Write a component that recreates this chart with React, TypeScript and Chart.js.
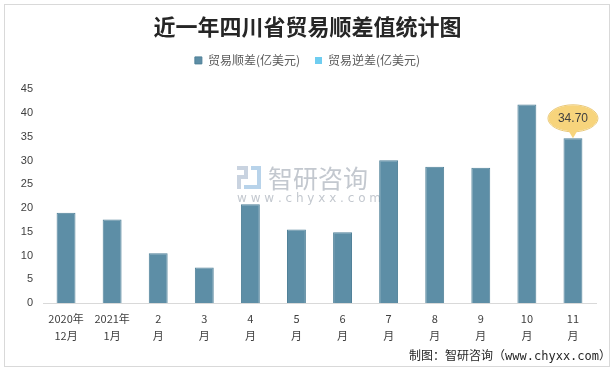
import React, { useEffect, useRef } from "react";
import { Chart, registerables } from "chart.js";

Chart.register(...registerables);

const chartTitle = "近一年四川省贸易顺差值统计图";
const categories: string[][] = [
  ["2020年", "12月"],
  ["2021年", "1月"],
  ["2", "月"],
  ["3", "月"],
  ["4", "月"],
  ["5", "月"],
  ["6", "月"],
  ["7", "月"],
  ["8", "月"],
  ["9", "月"],
  ["10", "月"],
  ["11", "月"],
];
const surplusName = "贸易顺差(亿美元)";
const deficitName = "贸易逆差(亿美元)";
const surplus = [19.0, 17.6, 10.5, 7.5, 20.8, 15.5, 14.9, 30.1, 28.7, 28.5, 41.8, 34.7];
const deficit: (number | null)[] = [];
const yMin = 0;
const yMax = 45;
const yStep = 5;
const highlightIndex = 11;
const footerText = "制图：智研咨询（www.chyxx.com）";
const watermarkName = "智研咨询";
const watermarkUrl = "w w w . c h y x x . c o m";

const W = 615;
const H = 371;

const framePlugin = {
  id: "frame",
  afterInit(chart: any) {
    const lg = chart.legend;
    if (lg && !lg.__patched) {
      const orig = lg.fit.bind(lg);
      lg.fit = function () {
        orig();
        this.height += 13;
      };
      lg.__patched = true;
    }
  },
  beforeDraw(chart: any) {
    const ctx = chart.ctx;
    ctx.save();
    ctx.fillStyle = "#ffffff";
    ctx.fillRect(0, 0, W, H);
    ctx.strokeStyle = "#d9d9d9";
    ctx.lineWidth = 1;
    ctx.strokeRect(4.5, 4.5, 605, 362);
    ctx.restore();
  },
};

const watermarkPlugin = {
  id: "watermark",
  beforeDatasetsDraw(chart: any) {
    const ctx = chart.ctx;
    ctx.save();
    ctx.fillStyle = "#c9d3e0";
    ctx.fillRect(237, 166, 11, 4);
    ctx.fillRect(244, 166, 4, 12);
    ctx.fillRect(237, 175, 11, 4);
    ctx.fillRect(237, 175, 4, 14);
    ctx.fillStyle = "#b8d3ea";
    ctx.fillRect(251, 166, 10, 4);
    ctx.fillRect(257, 166, 4, 23);
    ctx.fillRect(244, 185, 17, 4);
    ctx.fillStyle = "#c3c8cf";
    ctx.font = "25px 'Noto Sans CJK SC'";
    ctx.textBaseline = "middle";
    ctx.textAlign = "left";
    ctx.fillText(watermarkName, 268, 178);
    ctx.font = "12px 'DejaVu Sans'";
    ctx.fillText(watermarkUrl, 237, 199);
    ctx.restore();
  },
  afterDraw(chart: any) {
    const ctx = chart.ctx;
    ctx.save();
    ctx.fillStyle = "#262626";
    ctx.font = "12px 'DejaVu Sans Mono', 'Noto Sans CJK SC'";
    ctx.textAlign = "right";
    ctx.textBaseline = "middle";
    ctx.fillText(footerText, 611, 357);
    ctx.restore();
  },
};

const calloutPlugin = {
  id: "callout",
  afterDatasetsDraw(chart: any) {
    const meta = chart.getDatasetMeta(0);
    const el = meta.data[highlightIndex];
    if (!el) return;
    const x = el.x;
    const y = el.y;
    const ctx = chart.ctx;
    ctx.save();
    const cy = y - 20;
    ctx.fillStyle = "#f7d47c";
    ctx.strokeStyle = "#e9c878";
    ctx.lineWidth = 1;
    ctx.beginPath();
    ctx.ellipse(x, cy, 25, 13.5, 0, 0, Math.PI * 2);
    ctx.stroke();
    ctx.beginPath();
    ctx.ellipse(x, cy, 24.5, 13, 0, 0, Math.PI * 2);
    ctx.fill();
    ctx.beginPath();
    ctx.moveTo(x - 6, cy + 10);
    ctx.lineTo(x, y);
    ctx.lineTo(x + 6, cy + 10);
    ctx.fill();
    ctx.fillStyle = "#404040";
    ctx.font = "12px 'Liberation Sans', 'Noto Sans CJK SC'";
    ctx.textAlign = "center";
    ctx.textBaseline = "middle";
    ctx.fillText(surplus[highlightIndex].toFixed(2), x, cy);
    ctx.restore();
  },
};

export default function App() {
  const ref = useRef<HTMLCanvasElement>(null);
  useEffect(() => {
    document.body.style.margin = "0";
    const canvas = ref.current;
    if (!canvas) return;
    const chart = new Chart(canvas, {
      type: "bar",
      data: {
        labels: categories,
        datasets: [
          {
            label: surplusName,
            data: surplus,
            backgroundColor: "#5d8ea6",
            borderColor: "#4f8098",
            borderWidth: 1,
            barPercentage: 0.41,
            categoryPercentage: 1,
            grouped: false,
          },
          {
            label: deficitName,
            data: deficit,
            backgroundColor: "#6fcdf0",
            borderColor: "#6fcdf0",
            borderWidth: 0,
            barPercentage: 0.41,
            categoryPercentage: 1,
            grouped: false,
          },
        ],
      },
      options: {
        animation: false,
        responsive: false,
        maintainAspectRatio: false,
        devicePixelRatio: 1,
        layout: { padding: { top: 13, right: 19, bottom: 19, left: 19 } },
        plugins: {
          title: {
            display: true,
            text: chartTitle,
            color: "#262626",
            font: { family: "'Noto Sans CJK SC'", size: 22, weight: "bold", lineHeight: 1.2 },
            padding: { top: 0, bottom: 0 },
          },
          legend: {
            display: true,
            position: "top",
            labels: {
              boxWidth: 7,
              boxHeight: 7,
              padding: 15,
              color: "#595959",
              font: { family: "'Noto Sans CJK SC'", size: 12 },
            },
          },
          tooltip: { enabled: false },
        },
        scales: {
          x: {
            grid: { display: false, drawTicks: false },
            border: { display: true, color: "#d9d9d9", width: 1 },
            ticks: {
              color: "#404040",
              font: { family: "'Noto Sans CJK SC'", size: 11, lineHeight: 1.5 },
              padding: 8,
              maxRotation: 0,
              autoSkip: false,
            },
          },
          y: {
            min: yMin,
            max: yMax,
            grid: { display: false, drawTicks: false },
            border: { display: false },
            ticks: {
              stepSize: yStep,
              color: "#404040",
              font: { family: "'Liberation Sans', 'Noto Sans CJK SC'", size: 11 },
              padding: 10,
            },
            afterFit(scale: any) {
              scale.width = 24;
            },
          },
        },
      },
      plugins: [framePlugin, watermarkPlugin, calloutPlugin],
    });
    return () => chart.destroy();
  }, []);
  return (
    <div style={{ width: W, height: H }}>
      <canvas ref={ref} width={W} height={H} style={{ display: "block", width: W, height: H }} />
    </div>
  );
}
